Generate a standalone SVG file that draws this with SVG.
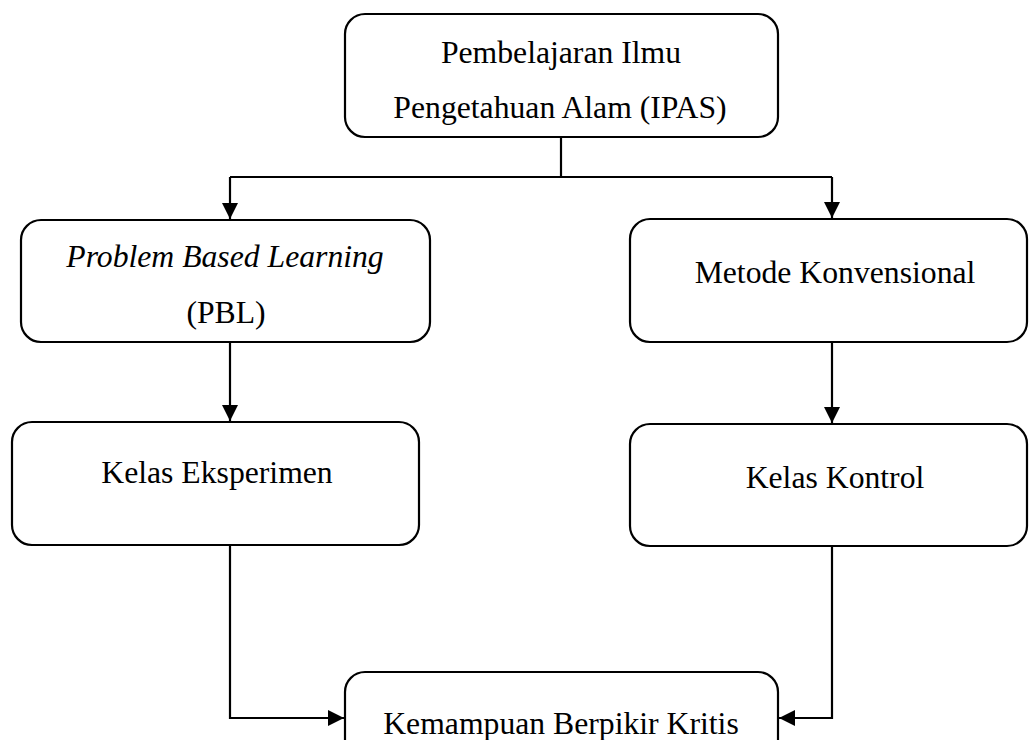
<svg xmlns="http://www.w3.org/2000/svg" width="1029" height="740" viewBox="0 0 1029 740">
<defs>
<marker id="arr" viewBox="0 0 16 16" refX="16" refY="8" markerWidth="16" markerHeight="16" orient="auto" markerUnits="userSpaceOnUse">
<path d="M0,0 L16,8 L0,16 z" fill="#000"/>
</marker>
</defs>
<style>
.box{fill:#fff;stroke:#000;stroke-width:2.2}
.t{font-family:"Liberation Serif","Times New Roman",serif;font-size:31.7px;fill:#000;text-anchor:middle}
.i{font-style:italic}
.c{fill:none;stroke:#000;stroke-width:2.2}
</style>
<rect width="1029" height="740" fill="#fff"/>
<g id="connectors">
<path class="c" d="M561,137 V177"/>
<path class="c" d="M230,177 H832"/>
<path class="c" d="M230,177 V219" marker-end="url(#arr)"/>
<path class="c" d="M832,177 V218" marker-end="url(#arr)"/>
<path class="c" d="M230,342 V421" marker-end="url(#arr)"/>
<path class="c" d="M832,342 V423" marker-end="url(#arr)"/>
<path class="c" d="M230,545 V718 H344" marker-end="url(#arr)"/>
<path class="c" d="M832,546 V718 H779" marker-end="url(#arr)"/>
</g>
<g id="node-ipas">
<rect class="box" x="345" y="14" width="433" height="123" rx="20"/>
<text class="t" x="561" y="63">Pembelajaran Ilmu</text>
<text class="t" x="560" y="118">Pengetahuan Alam (IPAS)</text>
</g>
<g id="node-pbl">
<rect class="box" x="21" y="220" width="409" height="122" rx="20"/>
<text class="t i" x="225" y="267">Problem Based Learning</text>
<text class="t" x="226" y="323">(PBL)</text>
</g>
<g id="node-metode">
<rect class="box" x="630" y="219" width="397" height="123" rx="20"/>
<text class="t" x="835" y="283">Metode Konvensional</text>
</g>
<g id="node-eksperimen">
<rect class="box" x="12" y="422" width="407" height="123" rx="20"/>
<text class="t" x="217" y="483">Kelas Eksperimen</text>
</g>
<g id="node-kontrol">
<rect class="box" x="630" y="424" width="397" height="122" rx="20"/>
<text class="t" x="835" y="488">Kelas Kontrol</text>
</g>
<g id="node-kritis">
<rect class="box" x="345" y="672" width="433" height="100" rx="20"/>
<text class="t" x="561" y="734">Kemampuan Berpikir Kritis</text>
</g>
</svg>
